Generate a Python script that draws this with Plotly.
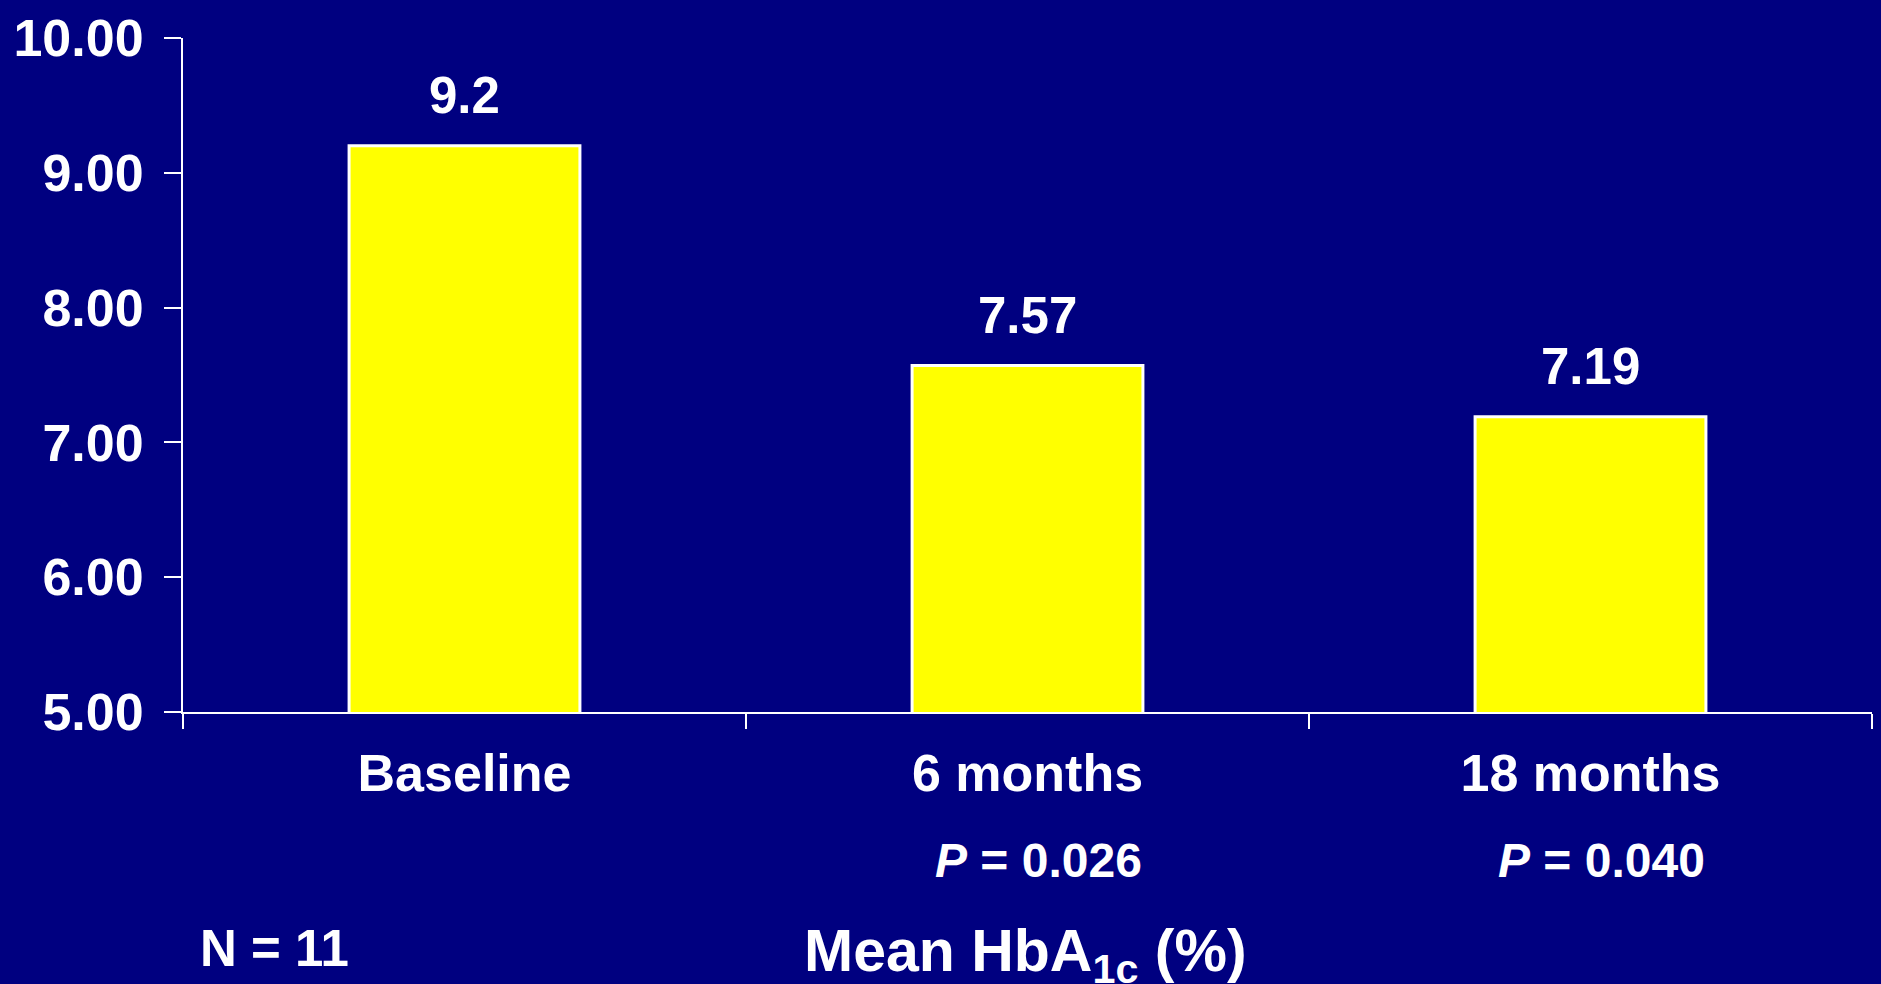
import plotly.graph_objects as go

# Mean HbA1c over time
categories = ["Baseline", "6 months", "18 months"]
hba1c = [9.2, 7.57, 7.19]
value_labels = ["9.2", "7.57", "7.19"]
p_values = ["", "0.026", "0.040"]
y_ticks = [5, 6, 7, 8, 9, 10]

NAVY = "#000080"
WHITE = "#FFFFFF"
FONT = "Liberation Sans, Arial, sans-serif"

W, H = 1881, 984
ml, mr, mt, mb = 183, 9, 33, 272
pw, ph = W - ml - mr, H - mt - mb


def px_to_paper(x, y):
    return (x - ml) / pw, (H - mb - y) / ph


fig = go.Figure()
fig.add_trace(go.Bar(
    x=categories,
    y=hba1c,
    marker=dict(color="#FFFF00", line=dict(color=WHITE, width=3)),
    hoverinfo="skip",
))

annotations = []
# value labels above the bars
for cat, v, lab in zip(categories, hba1c, value_labels):
    annotations.append(dict(
        x=cat, y=v, xref="x", yref="y", text=lab, showarrow=False,
        xanchor="center", yanchor="bottom", yshift=20,
        font=dict(size=51, color=WHITE, family=FONT, weight="bold"),
    ))

# significance versus baseline
_, p_y = px_to_paper(0, 862)
for cat, p in zip(categories, p_values):
    if p:
        annotations.append(dict(
            x=cat, y=p_y, xref="x", yref="paper",
            text="<i>P</i> = " + p, showarrow=False,
            xanchor="center", yanchor="middle", xshift=11,
            font=dict(size=48, color=WHITE, family=FONT, weight="bold"),
        ))

nx, ny = px_to_paper(274, 950)
annotations.append(dict(
    x=nx, y=ny, xref="paper", yref="paper", text="N = 11", showarrow=False,
    xanchor="center", yanchor="middle",
    font=dict(size=51, color=WHITE, family=FONT, weight="bold"),
))
tx, ty = px_to_paper(1025, 957)
annotations.append(dict(
    x=tx, y=ty, xref="paper", yref="paper",
    text="Mean HbA<sub>1c</sub> (%)", showarrow=False,
    xanchor="center", yanchor="middle",
    font=dict(size=59, color=WHITE, family=FONT, weight="bold"),
))

fig.update_layout(
    width=W, height=H,
    margin=dict(l=ml, r=mr, t=mt, b=mb),
    paper_bgcolor=NAVY,
    plot_bgcolor=NAVY,
    showlegend=False,
    bargap=0.59,
    font=dict(family=FONT, color=WHITE, size=52, weight="bold"),
    annotations=annotations,
    xaxis=dict(
        type="category",
        showline=True, linecolor=WHITE, linewidth=2,
        ticks="outside", tickson="boundaries", ticklen=15, tickwidth=2,
        tickcolor=WHITE, showgrid=False, zeroline=False,
        tickfont=dict(size=52, color=WHITE, family=FONT, weight="bold"),
        ticklabelstandoff=15,
    ),
    yaxis=dict(
        range=[5, 10],
        tickvals=y_ticks, tickformat=".2f",
        showline=True, linecolor=WHITE, linewidth=2,
        ticks="outside", ticklen=17, tickwidth=2, tickcolor=WHITE,
        showgrid=False, zeroline=False,
        tickfont=dict(size=52, color=WHITE, family=FONT, weight="bold"),
        ticklabelstandoff=10,
    ),
)

fig.write_html("out.html", config={"displayModeBar": False})
